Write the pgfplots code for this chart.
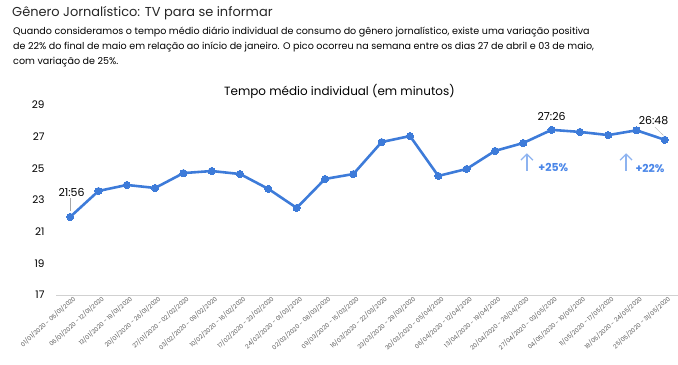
\documentclass[border=0pt]{standalone}
\usepackage{pgfplots}
\pgfplotsset{compat=1.18}
\usetikzlibrary{arrows.meta}
\usepackage{fontspec}
\setmainfont{Poppins}
\definecolor{lineblue}{HTML}{3D7BD9}
\definecolor{arrowblue}{HTML}{8DB3F0}
\definecolor{txtblue}{HTML}{4A86E8}
\definecolor{ticktxt}{HTML}{595959}
\begin{document}
\begin{tikzpicture}
\path[use as bounding box] (0,0) rectangle (678bp,365bp);
\node[anchor=west,inner sep=0pt,font=\fontsize{13}{16}\selectfont, text=black!85] at (12bp,352bp) {Gênero Jornalístico: TV para se informar};
\node[anchor=north west,inner sep=0pt,align=left,font=\fontsize{9.6}{15}\selectfont] at (13bp,338bp) {Quando consideramos o tempo médio diário individual de consumo do gênero jornalístico, existe uma variação positiva\\de 22\% do final de maio em relação ao início de janeiro. O pico ocorreu na semana entre os dias 27 de abril e 03 de maio,\\com variação de 25\%.};
\begin{axis}[
  at={(56bp,70bp)}, anchor=south west,
  scale only axis, width=623bp, height=190bp,
  xmin=-0.5, xmax=21.5, ymin=17, ymax=29,
  ytick={17,19,...,29},
  xtick={0,...,21},
  xticklabels={01/01/2020 - 05/01/2020,06/01/2020 - 12/01/2020,13/01/2020 - 19/01/2020,20/01/2020 - 26/01/2020,27/01/2020 - 02/02/2020,03/02/2020 - 09/02/2020,10/02/2020 - 16/02/2020,17/02/2020 - 23/02/2020,24/02/2020 - 01/03/2020,02/03/2020 - 08/03/2020,09/03/2020 - 15/03/2020,16/03/2020 - 22/03/2020,23/03/2020 - 29/03/2020,30/03/2020 - 05/04/2020,06/04/2020 - 12/04/2020,13/04/2020 - 19/04/2020,20/04/2020 - 26/04/2020,27/04/2020 - 03/05/2020,04/05/2020 - 10/05/2020,11/05/2020 - 17/05/2020,18/05/2020 - 24/05/2020,25/05/2020 - 31/05/2020},
  xticklabel style={rotate=42, anchor=east, font=\fontsize{6}{7}\selectfont, text=ticktxt, inner sep=0.5pt, yshift=-5bp, xshift=2bp},
  yticklabel style={font=\fontsize{10.5}{12}\selectfont, anchor=east, xshift=-8bp},
  /pgf/number format/assume math mode=true,
  axis x line*=bottom, axis y line*=left,
  x axis line style={draw=black!18, line width=0.8pt, -},
  y axis line style={draw=none},
  major tick length=0pt,
  title={Tempo médio individual (em minutos)},
  title style={font=\fontsize{12}{14}\selectfont, at={(0.455,1.0)}, anchor=base, yshift=4bp},
  clip=false,
]
\addplot[color=lineblue, line width=2.6pt, mark=*, mark size=3.6pt, mark options={fill=lineblue, draw=lineblue, line width=0pt}] coordinates {
(0,21.93) (1,23.57) (2,23.95) (3,23.76) (4,24.70) (5,24.83) (6,24.64) (7,23.70) (8,22.50) (9,24.33) (10,24.64)
(11,26.66) (12,27.04) (13,24.52) (14,24.96) (15,26.10) (16,26.60) (17,27.43) (18,27.30) (19,27.10) (20,27.40) (21,26.80)
};
\draw[black!35, line width=0.4pt] (axis cs:0,22.3) -- (axis cs:0,23.1);
\node[font=\fontsize{11}{13}\selectfont, inner sep=0pt] at (axis cs:0.05,23.5) {21:56};
\node[font=\fontsize{11}{13}\selectfont, inner sep=0pt] at (axis cs:17,28.3) {27:26};
\node[font=\fontsize{11}{13}\selectfont, inner sep=0pt] at (axis cs:20.6,28.0) {26:48};
\draw[black!30, line width=0.4pt] (axis cs:20.65,27.6) -- (axis cs:20.95,27.08);
\draw[arrowblue, line width=1.2pt, -{Straight Barb[length=6bp,width=12bp]}] (axis cs:16.13,24.85) -- (axis cs:16.13,25.95);
\draw[arrowblue, line width=1.2pt, -{Straight Barb[length=6bp,width=12bp]}] (axis cs:19.63,24.85) -- (axis cs:19.63,25.95);
\node[anchor=west, inner sep=0pt, text=txtblue, font=\bfseries\fontsize{11}{13}\selectfont] at (axis cs:16.53,25.05) {+25\%};
\node[anchor=west, inner sep=0pt, text=txtblue, font=\bfseries\fontsize{11}{13}\selectfont] at (axis cs:19.96,25.0) {+22\%};
\end{axis}
\end{tikzpicture}
\end{document}
